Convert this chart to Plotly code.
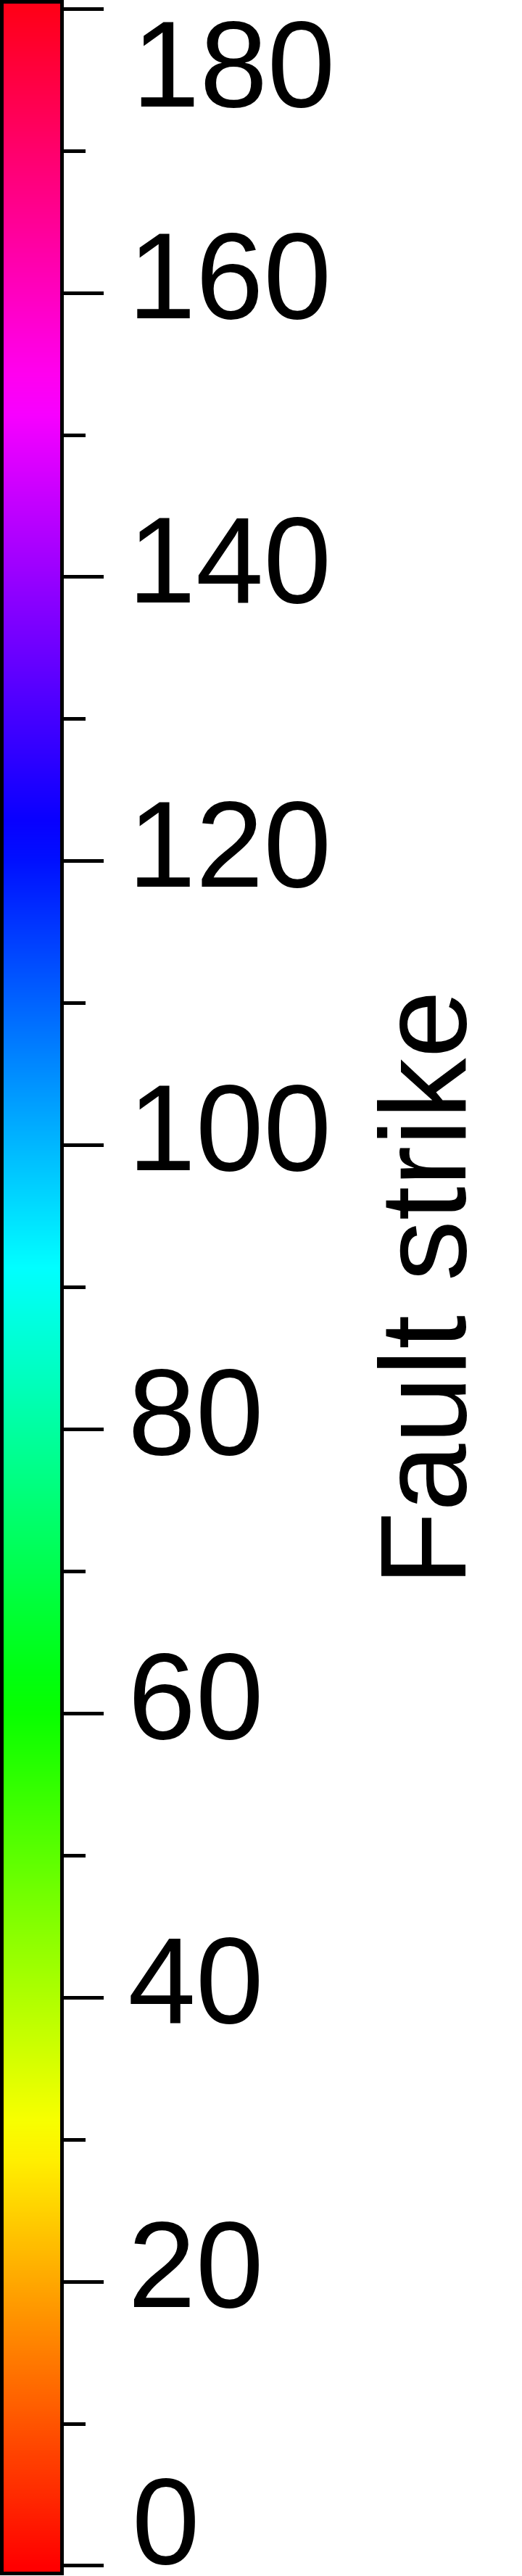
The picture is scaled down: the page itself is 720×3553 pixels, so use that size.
import plotly.graph_objects as go

# Colour scale (matplotlib "hsv" segment data): position -> channel value
red_pos = [0.0, 0.158730, 0.174603, 0.333333, 0.349206, 0.666667, 0.682540, 0.841270, 0.857143, 1.0]
red_val = [1.0, 1.0, 0.968750, 0.031250, 0.0, 0.0, 0.031250, 0.968750, 1.0, 1.0]
green_pos = [0.0, 0.158730, 0.174603, 0.507937, 0.666667, 0.682540, 1.0]
green_val = [0.0, 0.937500, 1.0, 1.0, 0.062500, 0.0, 0.0]
blue_pos = [0.0, 0.333333, 0.349206, 0.507937, 0.841270, 0.857143, 1.0]
blue_val = [0.0, 0.0, 0.062500, 1.0, 1.0, 0.937500, 0.09375]

strike_min = 0
strike_max = 180
minor_ticks = [10, 30, 50, 70, 90, 110, 130, 150, 170]
major_ticks = [0, 20, 40, 60, 80, 100, 120, 140, 160, 180]
major_labels = ["0", "20", "40", "60", "80", "100", "120", "140", "160", "180"]
title_text = "Fault strike"

# visible range of the bar (slightly padded beyond 0..180, as in the reference)
range_lo = -0.41
range_hi = 180.37


def interp(x, xp, fp):
    for i in range(len(xp) - 1):
        if xp[i] <= x <= xp[i + 1]:
            t = (x - xp[i]) / (xp[i + 1] - xp[i]) if xp[i + 1] > xp[i] else 0
            return fp[i] + t * (fp[i + 1] - fp[i])
    return fp[-1]


stops = sorted(set(red_pos + green_pos + blue_pos))
colorscale = []
for p in stops:
    r = interp(p, red_pos, red_val)
    g = interp(p, green_pos, green_val)
    b = interp(p, blue_pos, blue_val)
    colorscale.append([p, "rgb(%d,%d,%d)" % (round(r * 255), round(g * 255), round(b * 255))])

W, H = 720, 3553
font = "Liberation Sans, Arial, sans-serif"
label_size = 168

fig = go.Figure()
# the colour bar itself: a one-column heatmap of the strike scale, smoothly interpolated
fig.add_trace(go.Heatmap(
    x=[0], y=major_ticks, z=[[v] for v in major_ticks],
    zmin=strike_min, zmax=strike_max, colorscale=colorscale,
    zsmooth="best", showscale=False, hoverinfo="skip",
))

# end labels are nudged inside the bar's extent, as in the reference
inner_labels = [t if strike_min < v < strike_max else "" for v, t in zip(major_ticks, major_labels)]
for v, t in zip(major_ticks, major_labels):
    if v == strike_max:
        fig.add_annotation(text=t, xref="paper", yref="y", x=180 / W, y=v,
                           xanchor="left", yanchor="middle", yshift=-77, showarrow=False,
                           font=dict(family=font, size=label_size, color="black"))
    elif v == strike_min:
        fig.add_annotation(text=t, xref="paper", yref="y", x=180 / W, y=v,
                           xanchor="left", yanchor="middle", yshift=61, showarrow=False,
                           font=dict(family=font, size=label_size, color="black"))

fig.add_annotation(
    text=title_text, textangle=-90, xref="paper", yref="paper",
    x=583 / W, y=0.5, xanchor="center", yanchor="middle", showarrow=False,
    font=dict(family=font, size=168, color="black"),
)

fig.update_layout(
    width=W, height=H,
    margin=dict(l=0, r=0, t=0, b=0, autoexpand=False),
    paper_bgcolor="white", plot_bgcolor="white",
    xaxis=dict(domain=[5 / W, 83 / W], range=[-0.5, 0.5], fixedrange=True,
               showticklabels=False, ticks="", showgrid=False, zeroline=False,
               showline=True, mirror=True, linewidth=5, linecolor="black"),
    yaxis=dict(domain=[1 - 3547 / H, 1 - 5 / H], range=[range_lo, range_hi],
               side="right", anchor="x", automargin=False, fixedrange=True,
               showgrid=False, zeroline=False,
               showline=True, mirror=True, linewidth=5, linecolor="black",
               ticks="outside", ticklen=55, tickwidth=5, tickcolor="black",
               tickmode="array", tickvals=major_ticks, ticktext=inner_labels,
               ticklabelshift=-24,
               tickfont=dict(family=font, size=label_size, color="black"),
               minor=dict(tickmode="array", tickvals=minor_ticks, ticks="outside",
                          ticklen=30, tickwidth=5, tickcolor="black", showgrid=False)),
)
fig.write_html("out.html", config={"displayModeBar": False},
               post_script="document.body.style.margin='0';document.body.style.padding='0';")
